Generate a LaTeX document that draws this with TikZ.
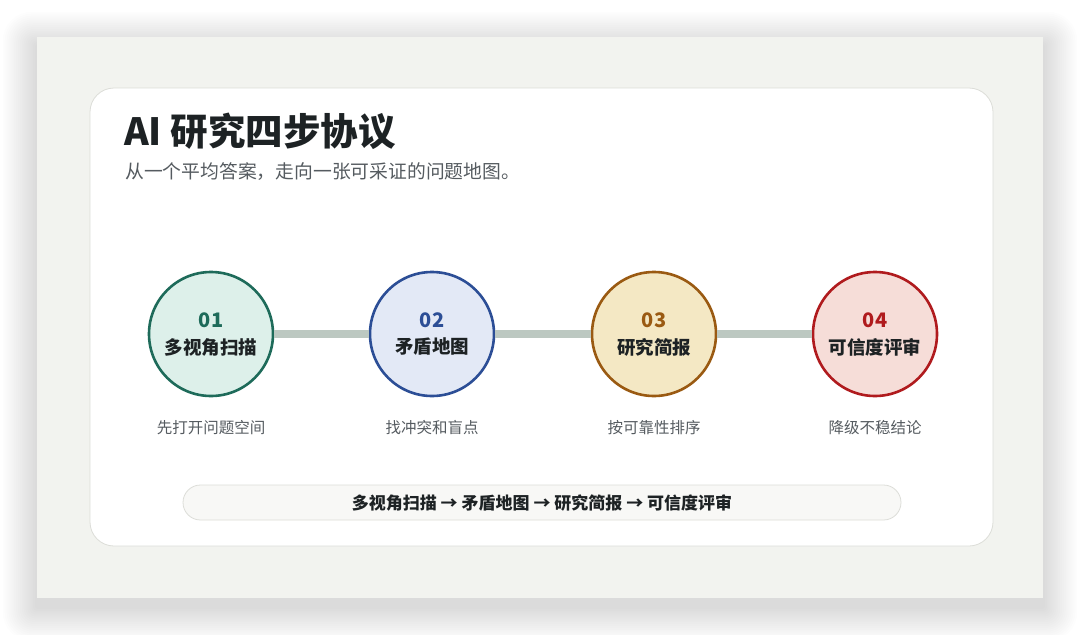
\documentclass[tikz,border=0pt]{standalone}
\usepackage{fontspec}
\setmainfont{Noto Sans CJK SC}
\definecolor{ink}{HTML}{1D2224}
\definecolor{subgray}{HTML}{555B60}
\definecolor{panel}{HTML}{F2F3EF}
\definecolor{cardline}{HTML}{DCDDD8}
\definecolor{pillfill}{HTML}{F8F8F6}
\definecolor{linkc}{HTML}{BCC8C1}
\definecolor{gA}{HTML}{1E6B5A}\definecolor{gAf}{HTML}{DDF0EA}
\definecolor{gB}{HTML}{2C4E96}\definecolor{gBf}{HTML}{E3E9F6}
\definecolor{gC}{HTML}{9A5A12}\definecolor{gCf}{HTML}{F4E8C4}
\definecolor{gD}{HTML}{B01B1E}\definecolor{gDf}{HTML}{F6DDD8}
\tikzset{
  stepcircle/.style={circle, minimum size=124pt, inner sep=0pt, line width=2.6pt},
  numtext/.style={font=\fontsize{20}{22}\selectfont\bfseries},
  labtext/.style={font=\fontsize{18.5}{20}\selectfont\bfseries, text=ink},
  captext/.style={font=\fontsize{15.5}{18}\selectfont, text=subgray},
  linkline/.style={draw=linkc, line width=8pt}
}
\begin{document}
\begin{tikzpicture}[x=1pt,y=-1pt]
\useasboundingbox (0,0) rectangle (1080,635);
\fill[white] (0,0) rectangle (1080,635);
% soft shadow of the outer panel
\foreach \i in {1,...,18}{
  \fill[black, opacity=0.0065, rounded corners=\i*1.6pt]
    ({37-\i*1.9},{37-\i*1.9+9}) rectangle ({1043+\i*1.9},{598+\i*1.9+9});
}
% outer panel
\fill[panel] (37,37) rectangle (1043,598);
% card
\path[fill=white, draw=cardline, line width=0.8pt, rounded corners=24pt] (90,88) rectangle (993,546);
% title
\node[anchor=base west, inner sep=0pt, font=\fontsize{37.5}{40}\selectfont\bfseries, text=ink] (title) at (124,145) {AI 研究四步协议};
\node[anchor=base west, inner sep=0pt, font=\fontsize{18.8}{20}\selectfont, text=subgray] (subtitle) at (125,178) {从一个平均答案，走向一张可采证的问题地图。};
% circles
\node[stepcircle, draw=gA, fill=gAf] (c1) at (211,334) {};
\node[stepcircle, draw=gB, fill=gBf] (c2) at (432,334) {};
\node[stepcircle, draw=gC, fill=gCf] (c3) at (654,334) {};
\node[stepcircle, draw=gD, fill=gDf] (c4) at (875,334) {};
% connectors
\draw[linkline] (c1.east) -- (c2.west);
\draw[linkline] (c2.east) -- (c3.west);
\draw[linkline] (c3.east) -- (c4.west);
% texts in circles
\node[numtext, text=gA] (n1) at (211,320) {01};
\node[numtext, text=gB] (n2) at (432,320) {02};
\node[numtext, text=gC] (n3) at (654,320) {03};
\node[numtext, text=gD] (n4) at (875,320) {04};
\node[labtext] (l1) at (211,347) {多视角扫描};
\node[labtext] (l2) at (432,347) {矛盾地图};
\node[labtext] (l3) at (654,347) {研究简报};
\node[labtext] (l4) at (875,347) {可信度评审};
% captions
\node[captext] (k1) at (211,428) {先打开问题空间};
\node[captext] (k2) at (432,428) {找冲突和盲点};
\node[captext] (k3) at (654,428) {按可靠性排序};
\node[captext] (k4) at (875,428) {降级不稳结论};
% bottom pill
\path[fill=pillfill, draw=cardline, line width=0.8pt, rounded corners=17.5pt] (183,485) rectangle (901,520);
\node[font=\fontsize{17}{19}\selectfont\bfseries, text=ink] (flow) at (542,502.5) {多视角扫描 → 矛盾地图 → 研究简报 → 可信度评审};
\end{tikzpicture}
\end{document}
